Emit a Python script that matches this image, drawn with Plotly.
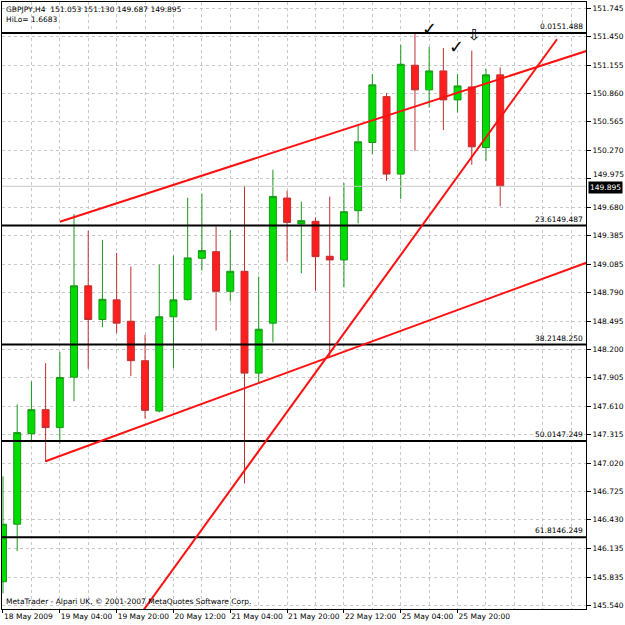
import plotly.graph_objects as go

# ---- data (bar index: 0 = 18 May 2009 12:00, H4 bars) ----
bars = list(range(36))
opens = [145.786, 146.384, 147.325, 147.574, 147.388, 147.912, 148.861, 148.511, 148.715, 148.493,
         148.083, 147.560, 148.539, 148.718, 149.147, 149.216, 148.804, 149.012, 147.954, 148.473,
         149.773, 149.504, 149.531, 149.168, 149.130, 149.642, 150.350, 150.827, 150.022, 151.153,
         150.897, 151.094, 150.793, 150.928, 150.298, 151.053]
highs = [146.882, 147.629, 147.868, 148.058, 148.172, 149.607, 149.434, 149.338, 149.203, 149.061,
         148.352, 149.081, 149.175, 149.776, 149.821, 149.476, 149.441, 149.901, 148.957, 150.067,
         149.849, 149.735, 149.572, 149.787, 149.929, 150.541, 151.060, 150.863, 151.364, 151.488,
         151.343, 151.332, 151.060, 151.306, 151.115, 151.130]
lows = [145.666, 146.104, 147.238, 147.031, 147.222, 147.663, 148.000, 148.431, 148.369, 147.923,
        147.481, 147.546, 148.006, 148.708, 149.019, 148.397, 148.701, 146.807, 147.844, 148.275,
        149.116, 148.991, 148.812, 148.120, 148.846, 149.510, 150.230, 149.953, 149.763, 150.264,
        150.713, 150.479, 150.661, 150.119, 150.160, 149.687]
closes = [146.384, 147.336, 147.574, 147.388, 147.909, 148.861, 148.511, 148.721, 148.473, 148.083,
          147.567, 148.539, 148.715, 149.151, 149.227, 148.804, 149.012, 147.954, 148.410, 149.790,
          149.520, 149.538, 149.164, 149.130, 149.631, 150.357, 150.949, 150.022, 151.163, 150.897,
          151.094, 150.793, 150.938, 150.305, 151.053, 149.895]

tick_bars = [0, 4, 8, 12, 16, 20, 24, 28, 32]
tick_labels = ["18 May 2009", "19 May 04:00", "19 May 20:00", "20 May 12:00", "21 May 04:00",
               "21 May 20:00", "22 May 12:00", "25 May 04:00", "25 May 20:00"]
grid_bars = list(range(0, 42, 2))

price_ticks = [151.745, 151.450, 151.155, 150.860, 150.565, 150.270, 149.975, 149.680, 149.385,
               149.085, 148.790, 148.495, 148.200, 147.905, 147.610, 147.315, 147.020, 146.725,
               146.430, 146.135, 145.835, 145.540]
price_labels = ["%.3f" % v for v in price_ticks]
# label pushed up by the current-price box
lifted_tick = 149.975

fib_levels = ["0.0", "23.6", "38.2", "50.0", "61.8"]
fib_prices = [151.488, 149.487, 148.250, 147.249, 146.249]

bid_price = 149.895

trend_upper_x = [4, 42]
trend_upper_y = [149.527, 151.346]
trend_lower_x = [3, 42]
trend_lower_y = [147.038, 149.152]
trend_steep_x = [8.9, 39.0]
trend_steep_y = [145.290, 151.423]

marks_x = [30.0, 31.9, 33.2]
marks_y = [151.53, 151.35, 151.47]
marks_txt = ["✓", "✓", "⇩"]

header = "GBPJPY,H4  151.053 151.130 149.687 149.895<br>HiLo= 1.6683"
footer = "MetaTrader - Alpari UK, © 2001-2007 MetaQuotes Software Corp."

FONT = "DejaVu Sans"
FS = 7.5

fig = go.Figure()

# bid line
fig.add_trace(go.Scatter(x=[-1, 45], y=[bid_price, bid_price], mode="lines",
                         line=dict(color="#c8c8c8", width=1), hoverinfo="skip", showlegend=False))

# fibo lines
for p in fib_prices:
    fig.add_trace(go.Scatter(x=[-1, 45], y=[p, p], mode="lines",
                             line=dict(color="#000000", width=2), hoverinfo="skip", showlegend=False))

fig.add_trace(go.Candlestick(
    x=bars, open=opens, high=highs, low=lows, close=closes,
    increasing=dict(line=dict(color="#189818", width=1), fillcolor="#00dc00"),
    decreasing=dict(line=dict(color="#c03030", width=1), fillcolor="#ff1e1e"),
    showlegend=False, whiskerwidth=0))

for xs, ys in [(trend_upper_x, trend_upper_y), (trend_lower_x, trend_lower_y),
               (trend_steep_x, trend_steep_y)]:
    fig.add_trace(go.Scatter(x=xs, y=ys, mode="lines", line=dict(color="#ff1010", width=2),
                             hoverinfo="skip", showlegend=False))

annotations = []
for lvl, p in zip(fib_levels, fib_prices):
    annotations.append(dict(x=1, xref="paper", y=p, yref="y", text=lvl + "%.3f" % p,
                            showarrow=False, xanchor="right", yanchor="bottom", xshift=-1, yshift=0,
                            font=dict(family=FONT, size=FS, color="black")))
annotations.append(dict(x=0, xref="paper", y=1, yref="paper", text=header, align="left",
                        showarrow=False, xanchor="left", yanchor="top", xshift=2, yshift=-1,
                        font=dict(family=FONT, size=FS, color="black")))
annotations.append(dict(x=0, xref="paper", y=0, yref="paper", text=footer, align="left",
                        showarrow=False, xanchor="left", yanchor="bottom", xshift=2, yshift=1,
                        font=dict(family=FONT, size=FS, color="black")))
annotations.append(dict(x=1, xref="paper", y=lifted_tick, yref="y", text="%.3f" % lifted_tick,
                        showarrow=False, xanchor="left", yanchor="middle", xshift=5, yshift=4,
                        font=dict(family=FONT, size=FS, color="black")))
annotations.append(dict(x=1, xref="paper", y=bid_price, yref="y", text="149.895",
                        showarrow=False, xanchor="left", yanchor="middle", xshift=2, yshift=-1,
                        bgcolor="black", borderpad=1,
                        font=dict(family=FONT, size=FS, color="white")))
for mx, my, mt in zip(marks_x, marks_y, marks_txt):
    annotations.append(dict(x=mx, y=my, text=mt, showarrow=False,
                            font=dict(family=FONT, size=18 if mt == "✓" else 15, color="black")))

shown_labels = ["" if v == lifted_tick else t for v, t in zip(price_ticks, price_labels)]

fig.update_layout(
    width=625, height=625,
    margin=dict(l=2, r=36, t=1, b=16),
    paper_bgcolor="white", plot_bgcolor="white",
    annotations=annotations,
    showlegend=False,
    xaxis=dict(range=[-0.07, 41.04], rangeslider=dict(visible=False),
               tickmode="array", tickvals=tick_bars, ticktext=tick_labels,
               ticklabelposition="outside right", tickangle=0,
               ticks="outside", ticklen=3, tickcolor="black",
               showgrid=True, gridcolor="#c8c8c8", griddash="3px,3px", gridwidth=1,
               minor=dict(tickmode="array", tickvals=grid_bars, showgrid=True,
                          gridcolor="#c8c8c8", griddash="3px,3px", ticks=""),
               showline=True, linecolor="black", linewidth=1, mirror=True,
               zeroline=False,
               tickfont=dict(family=FONT, size=FS, color="black")),
    yaxis=dict(range=[145.503, 151.810], side="right",
               tickmode="array", tickvals=price_ticks, ticktext=shown_labels,
               ticks="outside", ticklen=4, tickcolor="black",
               showgrid=True, gridcolor="#c8c8c8", griddash="3px,3px", gridwidth=1,
               showline=True, linecolor="black", linewidth=1, mirror=True,
               zeroline=False,
               tickfont=dict(family=FONT, size=FS, color="black")),
)

fig.write_html("out.html")
